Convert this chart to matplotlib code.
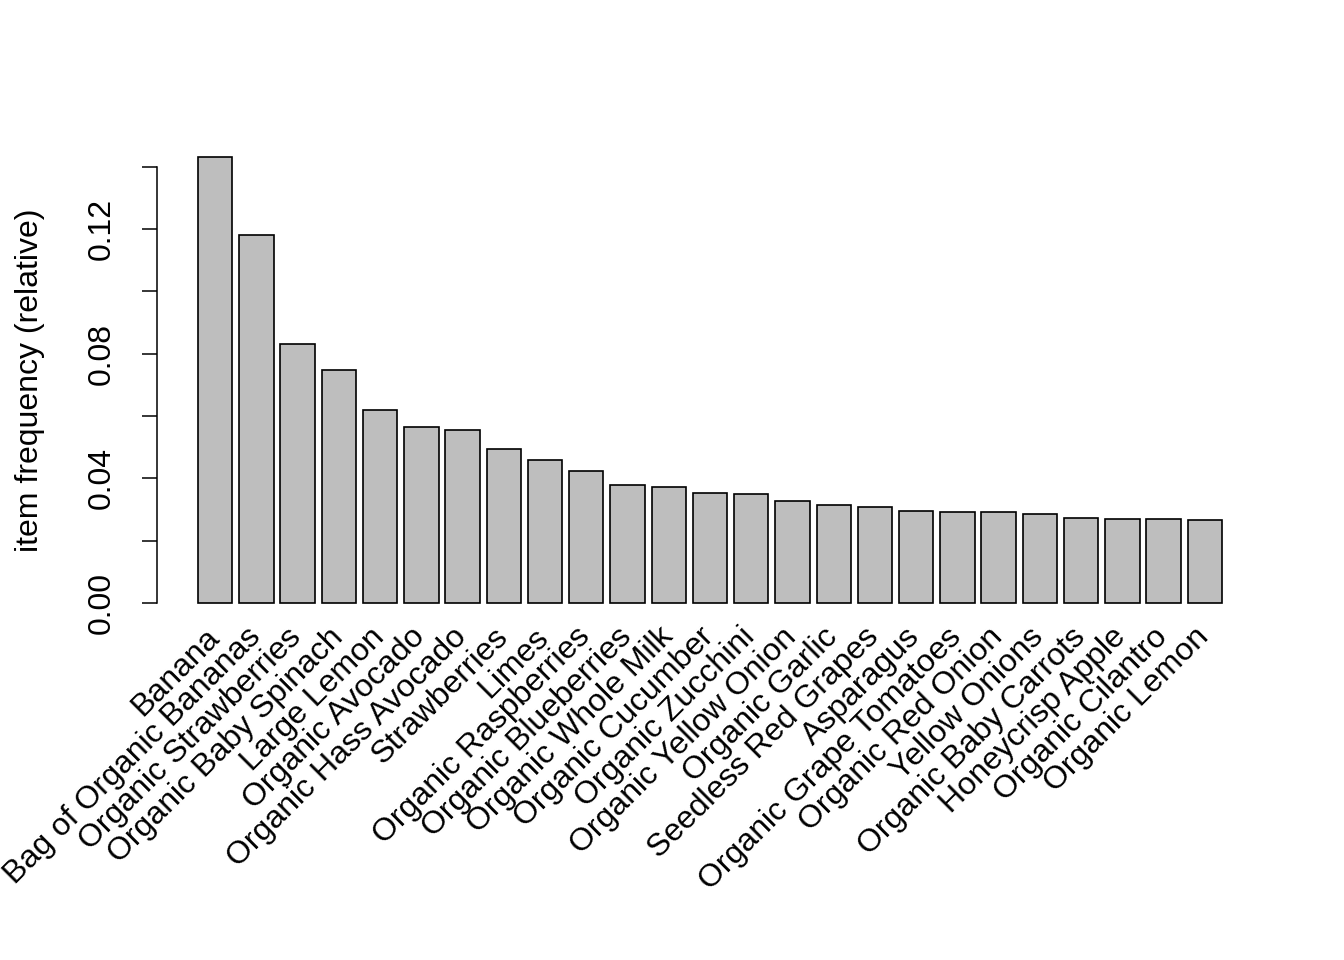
import numpy as np
import matplotlib.pyplot as plt
from matplotlib.transforms import offset_copy

plt.rcParams['font.family'] = ['Liberation Sans', 'DejaVu Sans']

# item names and relative frequencies
items = [
    "Banana", "Bag of Organic Bananas", "Organic Strawberries",
    "Organic Baby Spinach", "Large Lemon", "Organic Avocado",
    "Organic Hass Avocado", "Strawberries", "Limes", "Organic Raspberries",
    "Organic Blueberries", "Organic Whole Milk", "Organic Cucumber",
    "Organic Zucchini", "Organic Yellow Onion", "Organic Garlic",
    "Seedless Red Grapes", "Asparagus", "Organic Grape Tomatoes",
    "Organic Red Onion", "Yellow Onions", "Organic Baby Carrots",
    "Honeycrisp Apple", "Organic Cilantro", "Organic Lemon",
]
freq = [
    0.1431, 0.1182, 0.0831, 0.0748, 0.0619, 0.0565, 0.0555, 0.0494,
    0.0459, 0.0424, 0.0379, 0.0372, 0.0353, 0.0350, 0.0327, 0.0314,
    0.0308, 0.0295, 0.0292, 0.0292, 0.0286, 0.0273, 0.0270, 0.0270,
    0.0266,
]
yticks = [0.0, 0.02, 0.04, 0.06, 0.08, 0.10, 0.12, 0.14]
ytick_labels = ["0.00", "", "0.04", "", "0.08", "", "0.12", ""]

FS = 23

fig = plt.figure(figsize=(13.44, 9.6), dpi=100)
ax = fig.add_axes([157 / 1344, 1 - 621 / 960, (1263 - 157) / 1344, (621 - 139) / 960])

# R barplot layout: width 1, space 0.2
n = len(items)
left = 0.2 + np.arange(n) * 1.2
centers = left + 0.5
ax.bar(centers, freq, width=1.0, color="#BEBEBE", edgecolor="black", linewidth=1.2)

span = left[-1] + 1.0 - left[0]
ax.set_xlim(left[0] - 0.04 * span, left[-1] + 1.0 + 0.04 * span)
ymax = max(freq)
ax.set_ylim(-0.04 * ymax, ymax * 1.04)

for s in ["top", "right", "bottom"]:
    ax.spines[s].set_visible(False)
ax.spines["left"].set_bounds(0, 0.14)
ax.spines["left"].set_linewidth(1.1)

ax.set_yticks(yticks)
ax.set_yticklabels(ytick_labels, rotation=90, va="center", fontsize=FS)
ax.tick_params(axis="y", length=10.8, width=1.1, pad=18)
ax.set_xticks([])

ax.set_ylabel("item frequency (relative)", fontsize=FS, labelpad=30)

# rotated item labels under the bars
base = ax.get_xaxis_transform()
for c, name in zip(centers, items):
    tr = offset_copy(base, fig=fig, x=-8, y=0, units="points")
    ax.text(c, -0.002, name, transform=tr, rotation=45, ha="right", va="top",
            rotation_mode="anchor", fontsize=FS, clip_on=False)

fig.savefig("out.png", dpi=100)
